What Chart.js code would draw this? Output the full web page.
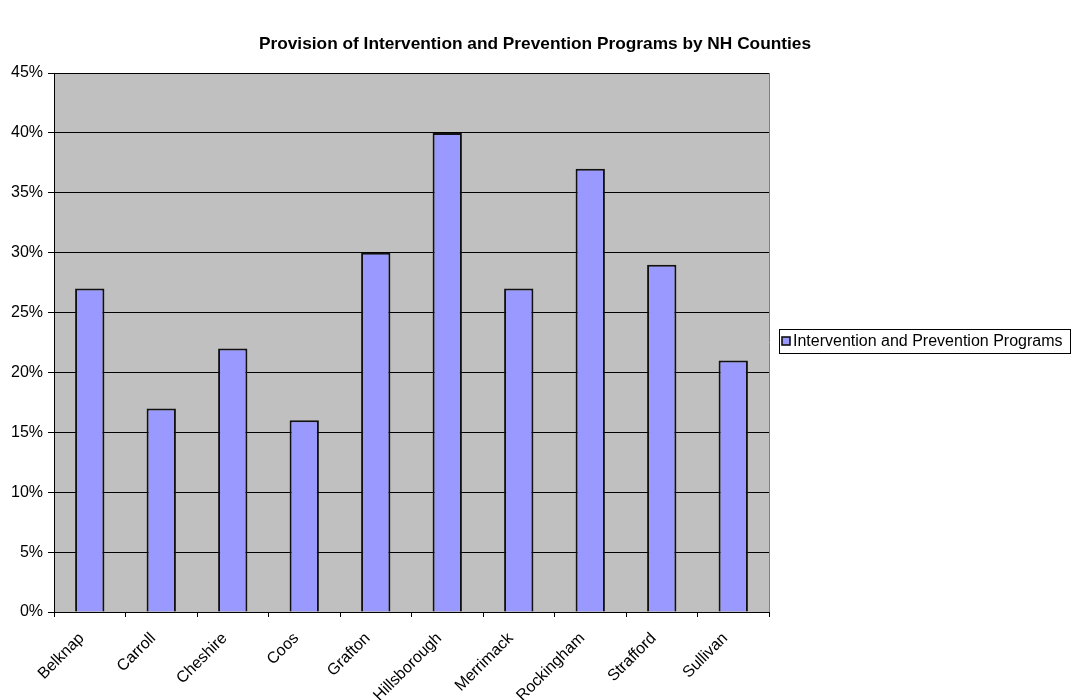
<!DOCTYPE html>
<html>
<head>
<meta charset="utf-8">
<script src="https://cdn.jsdelivr.net/npm/chart.js@4.4.1/dist/chart.umd.min.js"></script>
<style>
  html, body { margin: 0; padding: 0; background: #ffffff; }
  #wrap { width: 1071px; height: 700px; position: relative; }
</style>
</head>
<body>
<div id="wrap"><canvas id="c" width="1071" height="700"></canvas></div>
<script>
// County names along the category axis
const counties = ['Belknap', 'Carroll', 'Cheshire', 'Coos', 'Grafton',
  'Hillsborough', 'Merrimack', 'Rockingham', 'Strafford', 'Sullivan'];
// Share of programs offered, in percent
const programShare = [27, 17, 22, 16, 30, 40, 27, 37, 29, 21];
const seriesName = 'Intervention and Prevention Programs';
const chartTitle = 'Provision of Intervention and Prevention Programs by NH Counties';
const yMax = 45;
const yStep = 5;

const FONT = '"Liberation Sans", Arial, sans-serif';

// Gray plot background, frame, title and a boxed legend on the right
const decor = {
  id: 'decor',
  beforeDraw(chart) {
    const { ctx, chartArea: a } = chart;
    ctx.save();
    ctx.fillStyle = '#c0c0c0';
    ctx.fillRect(a.left, a.top, a.right - a.left, a.bottom - a.top);
    ctx.restore();
  },
  afterDraw(chart) {
    const { ctx, chartArea: a } = chart;
    ctx.save();
    ctx.strokeStyle = '#808080';
    ctx.lineWidth = 1;
    ctx.beginPath();
    ctx.moveTo(Math.round(a.right) + 0.5, a.top);
    ctx.lineTo(Math.round(a.right) + 0.5, a.bottom);
    ctx.stroke();

    // title
    ctx.fillStyle = '#000';
    ctx.font = 'bold 17.3px ' + FONT;
    ctx.textAlign = 'center';
    ctx.textBaseline = 'middle';
    ctx.fillText(chartTitle, 535, 44);

    // legend
    const ds = chart.data.datasets[0];
    const lx = 779.5, ly = 329.5, lw = 291, lh = 24;
    ctx.fillStyle = '#ffffff';
    ctx.fillRect(lx, ly, lw, lh);
    ctx.strokeStyle = '#000';
    ctx.lineWidth = 1;
    ctx.strokeRect(lx, ly, lw, lh);
    ctx.fillStyle = ds.backgroundColor;
    ctx.fillRect(782, 337, 8, 8);
    ctx.lineWidth = 1.6;
    ctx.strokeStyle = '#111';
    ctx.strokeRect(782, 337, 8, 8);
    ctx.fillStyle = '#000';
    ctx.font = '16px ' + FONT;
    ctx.textAlign = 'left';
    ctx.textBaseline = 'middle';
    ctx.fillText(ds.label, 793, 342);
    ctx.restore();
  }
};

new Chart(document.getElementById('c'), {
  type: 'bar',
  data: {
    labels: counties,
    datasets: [{
      label: seriesName,
      data: programShare,
      backgroundColor: '#9999ff',
      borderColor: '#111111',
      borderWidth: 2,
      categoryPercentage: 1,
      barPercentage: 0.41
    }]
  },
  options: {
    responsive: false,
    animation: false,
    layout: { padding: { top: 73, right: 302, left: 0, bottom: 0 } },
    plugins: { legend: { display: false }, title: { display: false }, tooltip: { enabled: false } },
    scales: {
      x: {
        grid: { offset: true, drawOnChartArea: false, color: '#000', tickLength: 5, tickColor: '#000' },
        border: { color: '#000', width: 1 },
        ticks: {
          color: '#000', font: { family: FONT, size: 16 },
          maxRotation: 45, minRotation: 45, padding: 12, labelOffset: -8, autoSkip: false
        },
        afterFit(s) { s.height = 88; }
      },
      y: {
        min: 0, max: yMax,
        grid: { color: '#000', tickLength: 6, tickColor: '#000' },
        border: { color: '#000', width: 1 },
        ticks: {
          stepSize: yStep, color: '#000', font: { family: FONT, size: 16 }, padding: 5,
          callback: v => v + '%'
        },
        afterFit(s) { s.width = 54; }
      }
    }
  },
  plugins: [decor]
});
</script>
</body>
</html>
